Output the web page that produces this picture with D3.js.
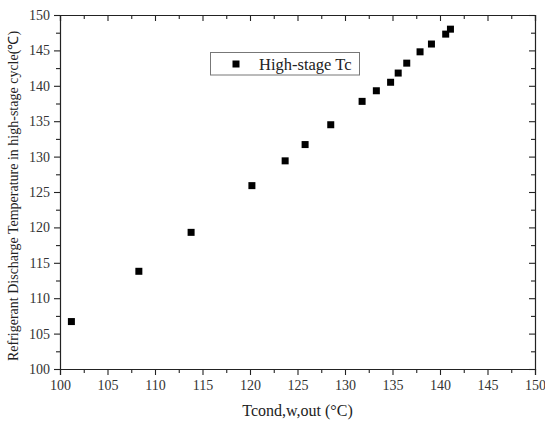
<!DOCTYPE html>
<html>
<head>
<meta charset="utf-8">
<script src="https://cdn.jsdelivr.net/npm/d3@7/dist/d3.min.js"></script>
<style>
  html, body { margin: 0; padding: 0; background: #fff; }
  svg { display: block; }
  text { font-family: "Liberation Serif", "Times New Roman", serif; }
</style>
</head>
<body>
<svg id="chart" width="545" height="426"></svg>
<script>
// Condenser water outlet temperature (°C)
const tcondOut = [101.2, 108.3, 113.8, 120.2, 123.7, 125.8, 128.5, 131.8, 133.3, 134.8, 135.6, 136.5, 137.9, 139.1, 140.6, 141.1];
// High-stage refrigerant discharge temperature (°C)
const dischargeTemp = [106.7, 113.8, 119.3, 125.9, 129.4, 131.7, 134.5, 137.8, 139.3, 140.5, 141.8, 143.2, 144.8, 145.9, 147.3, 148.0];
const xTicks = [100, 105, 110, 115, 120, 125, 130, 135, 140, 145, 150];
const yTicks = [100, 105, 110, 115, 120, 125, 130, 135, 140, 145, 150];
const seriesName = "High-stage Tc";

const svg = d3.select("#chart");
const plotL = 60, plotR = 535, plotT = 15, plotB = 369;

const x = d3.scaleLinear().domain([100, 150]).range([plotL, plotR]);
const y = d3.scaleLinear().domain([100, 150]).range([plotB, plotT]);

const minorX = d3.range(102.5, 150, 5);
const minorY = d3.range(102.5, 150, 5);

function styleAxis(g) {
  g.select(".domain").attr("stroke", "#222").attr("stroke-width", 1.2);
  g.selectAll(".tick line").attr("stroke", "#222").attr("stroke-width", 1.1);
  g.selectAll(".tick text").attr("fill", "#333").style("font-size", "14px");
}

// Bottom axis: major and minor ticks outward
svg.append("g").attr("transform", `translate(0,${plotB})`)
  .call(d3.axisBottom(x).tickValues(xTicks).tickSize(6).tickPadding(5).tickFormat(d3.format("d")))
  .call(styleAxis);
svg.append("g").attr("transform", `translate(0,${plotB})`)
  .call(d3.axisBottom(x).tickValues(minorX).tickSize(4).tickFormat(""))
  .call(styleAxis).call(g => g.select(".domain").remove());

// Left axis
svg.append("g").attr("transform", `translate(${plotL},0)`)
  .call(d3.axisLeft(y).tickValues(yTicks).tickSize(6).tickPadding(4).tickFormat(d3.format("d")))
  .call(styleAxis);
svg.append("g").attr("transform", `translate(${plotL},0)`)
  .call(d3.axisLeft(y).tickValues(minorY).tickSize(4).tickFormat(""))
  .call(styleAxis).call(g => g.select(".domain").remove());

// Top axis: ticks point into the plot
svg.append("g").attr("transform", `translate(0,${plotT})`)
  .call(d3.axisTop(x).tickValues(xTicks).tickSize(-6).tickFormat(""))
  .call(styleAxis);
svg.append("g").attr("transform", `translate(0,${plotT})`)
  .call(d3.axisTop(x).tickValues(minorX).tickSize(-4).tickFormat(""))
  .call(styleAxis).call(g => g.select(".domain").remove());

// Right axis: ticks point into the plot
svg.append("g").attr("transform", `translate(${plotR},0)`)
  .call(d3.axisRight(y).tickValues(yTicks).tickSize(-6).tickFormat(""))
  .call(styleAxis);
svg.append("g").attr("transform", `translate(${plotR},0)`)
  .call(d3.axisRight(y).tickValues(minorY).tickSize(-4).tickFormat(""))
  .call(styleAxis).call(g => g.select(".domain").remove());

// Data points
const ms = 7;
svg.append("g").selectAll("rect")
  .data(tcondOut.map((v, i) => [v, dischargeTemp[i]]))
  .join("rect")
  .attr("x", d => x(d[0]) - ms / 2)
  .attr("y", d => y(d[1]) - ms / 2)
  .attr("width", ms).attr("height", ms)
  .attr("fill", "#000");

// Legend
const lg = svg.append("g");
lg.append("rect").attr("x", 210.5).attr("y", 52.5).attr("width", 149).attr("height", 22.5)
  .attr("fill", "#fff").attr("stroke", "#777").attr("stroke-width", 1);
lg.append("rect").attr("x", 236 - ms / 2).attr("y", 64 - ms / 2).attr("width", ms).attr("height", ms).attr("fill", "#000");
lg.append("text").attr("x", 259).attr("y", 69.5).attr("fill", "#222")
  .style("font-size", "16.5px").text(seriesName);

// Axis titles
svg.append("text").attr("x", (plotL + plotR) / 2).attr("y", 416).attr("text-anchor", "middle")
  .attr("fill", "#222").style("font-size", "16px").text("Tcond,w,out (°C)");
svg.append("text").attr("transform", `translate(18,${(plotT + plotB) / 2 + 4}) rotate(-90)`)
  .attr("text-anchor", "middle").attr("fill", "#222").style("font-size", "14px")
  .text("Refrigerant Discharge Temperature in high-stage cycle(℃)");
</script>
</body>
</html>
